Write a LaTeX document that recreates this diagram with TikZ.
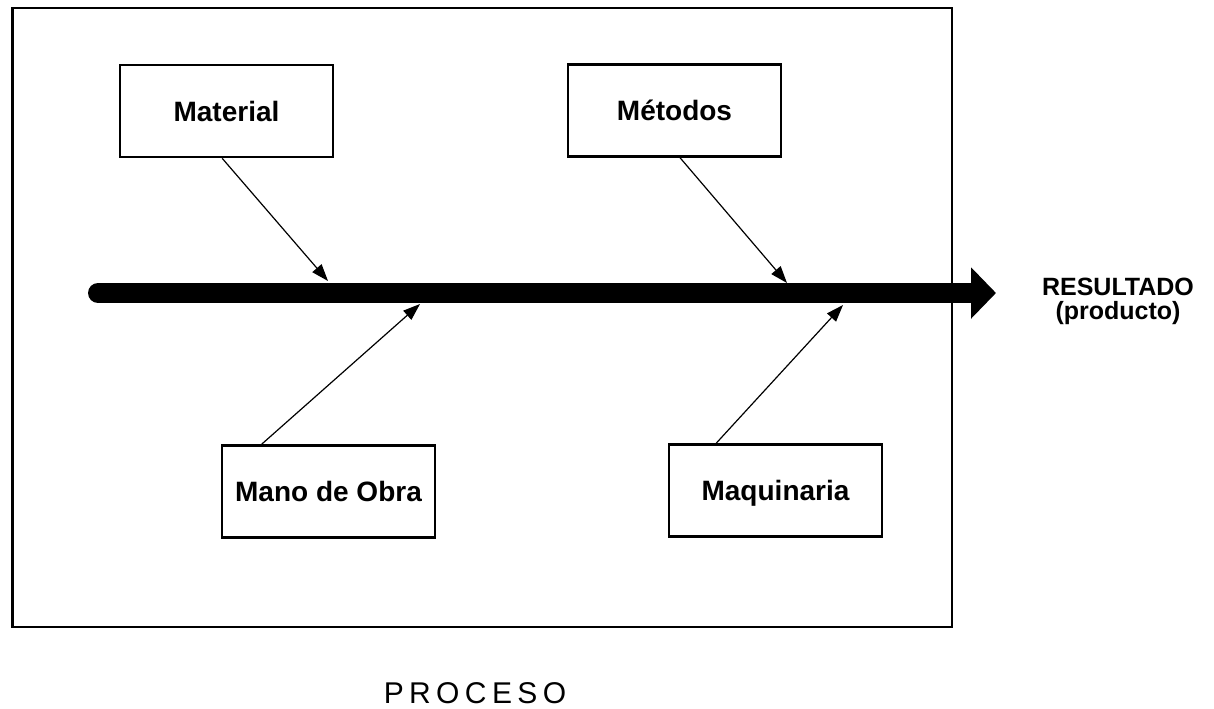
\documentclass[tikz,border=0pt]{standalone}
\usepackage{fontspec}
\setmainfont{Liberation Sans}
\usetikzlibrary{arrows.meta,calc}
\begin{document}
\begin{tikzpicture}[x=0.5pt,y=-0.5pt,
  cause/.style={draw,line width=1.3pt,minimum width=106.5pt,minimum height=46pt,
    inner sep=0pt,text height=10pt,text depth=0pt,
    font=\fontsize{14}{16}\selectfont\bfseries},
  feeder/.style={line width=0.6pt,-{Triangle[length=8.5pt,width=6pt]}},
  spine/.style={line width=10pt,line cap=round,-{Triangle[length=12.5pt,width=25pt]}},
  ]
\useasboundingbox (0,0) rectangle (1214,708);

% process frame
\draw[line width=1.2pt] (12.5,8) rectangle (952,627);

% cause boxes
\node[cause] (material)   at (226.5,111)   {Material};
\node[cause] (metodos)    at (674.5,110.5) {Métodos};
\node[cause] (manoobra)   at (328.5,491.5) {Mano de Obra};
\node[cause] (maquinaria) at (775.5,490.5) {Maquinaria};

% main spine towards the result
\coordinate (spinestart) at (98,293);
\coordinate (spineend)   at (996,293);
\draw[spine] (spinestart) -- (spineend);

% points where the causes meet the spine
\coordinate (tipmaterial)   at (328,281);
\coordinate (tipmetodos)    at (787,283);
\coordinate (tipmanoobra)   at (420,304);
\coordinate (tipmaquinaria) at (843,305);

\draw[feeder] ($(material.south west)!0.48!(material.south east)$) -- (tipmaterial);
\draw[feeder] ($(metodos.south west)!0.526!(metodos.south east)$) -- (tipmetodos);
\draw[feeder] ($(manoobra.north west)!0.19!(manoobra.north east)$) -- (tipmanoobra);
\draw[feeder] ($(maquinaria.north west)!0.225!(maquinaria.north east)$) -- (tipmaquinaria);

% result and process labels
\node[align=center,inner sep=0pt,font=\fontsize{12.5}{12}\selectfont\bfseries]
  (resultado) at (1118,301.5) {RESULTADO\\(producto)};
\node[inner sep=0pt,font=\fontsize{15}{17}\selectfont\addfontfeature{LetterSpace=18}]
  (proceso) at (475,693) {PROCESO};
\end{tikzpicture}
\end{document}
